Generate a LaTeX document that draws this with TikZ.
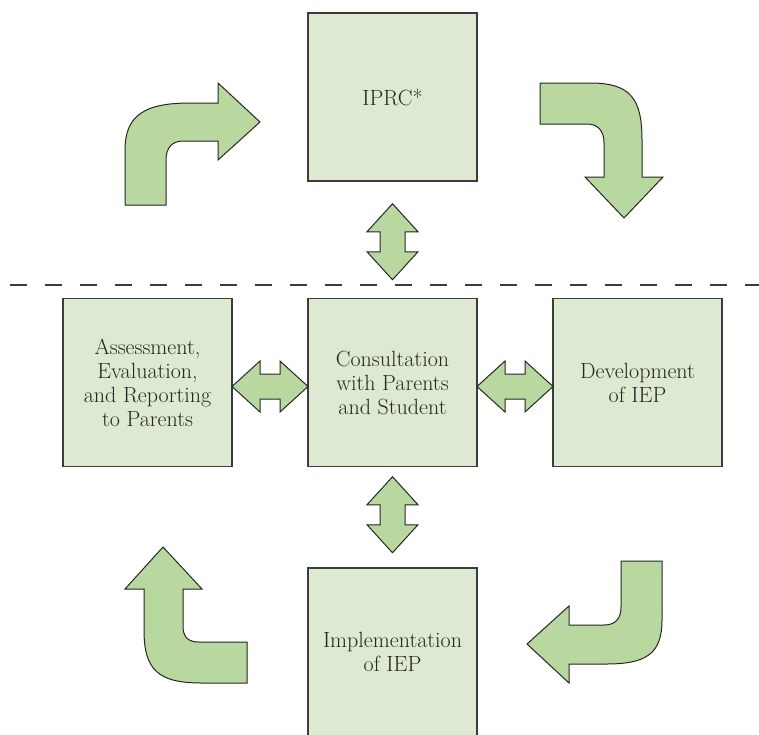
\documentclass[tikz,border=0pt]{standalone}
\usepackage{xcolor}
\usepackage{tikz}
\usetikzlibrary{calc}
\definecolor{BoxGreen}{RGB}{221,233,208}
\definecolor{ArrowGreen}{RGB}{185,216,160}
\definecolor{LineGray}{RGB}{60,60,60}

\begin{document}
\begin{tikzpicture}[x=1pt, y=-1pt,
                % Style cho các hộp
                stepbox/.style={rectangle, draw=LineGray, fill=BoxGreen, line width=1.2pt, text=black!85, minimum width=169pt, minimum height=168pt, inner sep=0pt, align=center, font=\fontsize{22}{24}\selectfont},
                % Style mũi tên khối
                blockarrow/.style={draw=black!85, fill=ArrowGreen, line width=1pt, line join=miter},
                dblarrow/.pic={\path[blockarrow] (-38,0) -- (-10,-25.5) -- (-10,-12.5) -- (10,-12.5) -- (10,-25.5) -- (38,0) -- (10,25.5) -- (10,12.5) -- (-10,12.5) -- (-10,25.5) -- cycle;},
                % Style đường gạch
                divider/.style={draw=LineGray, line width=1.4pt, dash pattern=on 17pt off 18pt}
            ]
                \useasboundingbox (0,0) rectangle (759,734);
                \clip (0,0) rectangle (759,734);

                % --- VẼ HỘP ---
                \node[stepbox] (iprc) at (392.5, 97) {IPRC*};
                \node[stepbox] (assess) at (147.5, 382.5) {Assessment,\\Evaluation,\\and Reporting\\to Parents};
                \node[stepbox] (consult) at (392.5, 382.5) {Consultation\\with Parents\\and Student};
                \node[stepbox] (develop) at (637.5, 382.5) {Development\\of IEP};
                \node[stepbox] (implement) at (392.5, 652) {Implementation\\of IEP};

                % --- ĐƯỜNG GẠCH ---
                \path[divider] (10, 285) -- (759, 285);

                % --- MŨI TÊN HAI CHIỀU ---
                \pic[rotate=90] at ($(iprc.south)!0.5!(consult.north)+(0,2)$) {dblarrow};
                \pic at ($(assess.east)!0.5!(consult.west)+(0,4)$) {dblarrow};
                \pic at ($(consult.east)!0.5!(develop.west)+(0,4)$) {dblarrow};
                \pic[rotate=90] at ($(consult.south)!0.5!(implement.north)-(0,2.5)$) {dblarrow};

                % --- MŨI TÊN VÒNG ---
                % trên trái
                \path[blockarrow] (125,205) -- (125,150) .. controls (125,115) and (145,103) .. (190,103)
                    -- (218,103) -- (218,83) -- (260,122) -- (218,160) -- (218,141) -- (183,141)
                    .. controls (172,141) and (166,148) .. (166,160) -- (166,205) -- cycle;
                % trên phải
                \path[blockarrow] (540,83) -- (590,83) .. controls (630,83) and (642,98) .. (642,140)
                    -- (642,177) -- (663,177) -- (624,218) -- (585,177) -- (604,177) -- (604,143)
                    .. controls (604,131) and (598,124) .. (587,124) -- (540,124) -- cycle;
                % dưới phải
                \path[blockarrow] (621,561) -- (662,561) -- (662,620) .. controls (662,654) and (646,664) .. (606,664)
                    -- (569,664) -- (569,683) -- (527,644) -- (569,606) -- (569,625) -- (604,625)
                    .. controls (615,625) and (621,619) .. (621,607) -- cycle;
                % dưới trái
                \path[blockarrow] (163,547) -- (202,589) -- (183,589) -- (183,626)
                    .. controls (183,637) and (188,642) .. (199,642) -- (247,642) -- (247,683) -- (202,683)
                    .. controls (158,683) and (144,670) .. (144,630) -- (144,589) -- (125,589) -- cycle;

            \end{tikzpicture}
\end{document}
